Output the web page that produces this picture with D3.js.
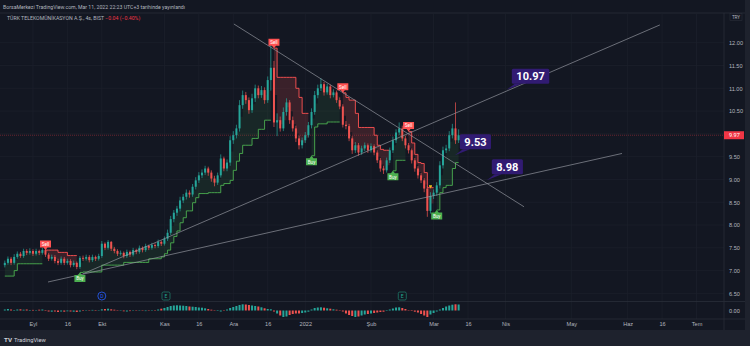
<!DOCTYPE html>
<html>
<head>
<meta charset="utf-8">
<title>TTKOM 4s</title>
<script src="https://cdnjs.cloudflare.com/ajax/libs/d3/7.8.5/d3.min.js"></script>
<style>
    body { margin: 0; background: #1e222d; }
    svg { display: block; font-family: Roboto, "Liberation Sans", sans-serif; }
    .axis text { fill: #b2b5be; font-size: 5.6px; }
    .axis path, .axis line { display: none; }
</style>
</head>
<body>
<svg id="chart"></svg>
<script>
    const width = 750;
    const height = 346;

    // candles, one per trading day, bar 0 = Aug 19 2021, last bar = Mar 11 2022
    const opens = [7.12,7.17,7.26,7.17,7.30,7.37,7.32,7.43,7.39,7.43,7.37,7.43,7.39,7.45,7.35,7.26,7.30,7.21,7.17,7.26,
        7.17,7.21,7.12,7.17,7.08,7.28,7.26,7.30,7.23,7.30,7.26,7.32,7.59,7.50,7.63,7.48,7.43,7.37,7.39,7.32,
        7.41,7.35,7.45,7.41,7.50,7.45,7.54,7.50,7.56,7.54,7.63,7.59,7.70,7.83,8.13,8.27,8.36,8.54,8.62,8.71,
        8.67,8.84,8.98,9.09,9.15,9.24,9.15,9.02,8.93,9.09,9.46,9.24,9.37,9.86,9.97,10.12,10.63,10.85,10.74,10.52,
        10.78,11.00,10.85,10.96,10.74,11.18,11.45,10.25,10.30,10.12,10.48,10.69,10.30,10.12,9.90,9.75,9.86,9.97,10.19,10.48,
        10.85,11.00,11.09,10.91,11.04,10.85,10.91,10.74,10.60,10.20,10.17,9.90,9.64,9.75,9.59,9.68,9.75,9.64,9.73,9.59,
        9.42,9.24,9.20,9.42,9.64,9.86,10.03,10.12,9.90,9.75,9.64,9.42,9.24,9.09,8.98,8.80,8.31,8.64,8.71,8.87,
        9.31,9.64,9.68,9.97,10.12,9.86];
    const highs = [7.22,7.31,7.30,7.36,7.42,7.41,7.48,7.47,7.49,7.47,7.48,7.46,7.50,7.49,7.39,7.35,7.34,7.26,7.31,7.30,
        7.26,7.25,7.22,7.20,7.32,7.33,7.35,7.34,7.35,7.33,7.37,7.65,7.62,7.67,7.65,7.52,7.47,7.44,7.42,7.46,
        7.44,7.50,7.48,7.55,7.53,7.59,7.57,7.61,7.60,7.68,7.66,7.75,7.90,8.20,8.33,8.42,8.62,8.68,8.78,8.76,
        8.90,9.05,9.16,9.22,9.30,9.28,9.20,9.08,9.15,9.55,9.50,9.44,9.95,10.06,10.20,10.74,10.95,10.92,10.80,10.88,
        11.08,11.06,11.05,11.02,11.26,11.99,11.60,10.45,10.38,10.58,10.78,10.74,10.38,10.18,9.96,9.92,10.04,10.26,10.56,10.94,
        11.08,11.22,11.14,11.10,11.08,10.98,10.95,10.80,10.65,10.28,10.22,9.95,9.82,9.80,9.74,9.81,9.79,9.79,9.77,9.64,
        9.47,9.30,9.48,9.70,9.94,10.10,10.25,10.18,9.96,9.80,9.68,9.47,9.29,9.14,9.03,8.86,8.72,8.78,8.94,9.40,
        9.72,9.76,10.06,10.22,10.69,10.10];
    const lows = [7.07,7.13,7.12,7.13,7.26,7.28,7.28,7.34,7.35,7.32,7.33,7.34,7.35,7.30,7.21,7.22,7.16,7.12,7.13,7.12,
        7.13,7.07,7.08,7.03,7.04,7.21,7.22,7.18,7.19,7.21,7.22,7.28,7.45,7.46,7.43,7.38,7.32,7.33,7.27,7.28,
        7.30,7.31,7.36,7.37,7.40,7.41,7.45,7.46,7.49,7.50,7.54,7.55,7.65,7.78,8.06,8.20,8.30,8.48,8.56,8.60,
        8.62,8.78,8.92,9.03,9.10,9.08,8.95,8.85,8.88,9.04,9.18,9.18,9.30,9.78,9.90,10.05,10.55,10.66,10.44,10.46,
        10.70,10.78,10.79,10.66,10.68,10.95,10.15,9.95,10.05,10.06,10.40,10.22,10.05,9.82,9.66,9.68,9.80,9.92,10.12,10.42,
        10.78,10.94,10.84,10.86,10.78,10.80,10.68,10.54,10.14,10.10,9.84,9.56,9.58,9.52,9.54,9.62,9.58,9.59,9.53,9.36,
        9.17,9.12,9.15,9.36,9.58,9.80,9.97,9.84,9.68,9.57,9.35,9.17,9.02,8.92,8.72,8.18,8.25,8.57,8.64,8.80,
        9.24,9.58,9.62,9.90,9.78,9.80];
    const closes = [7.17,7.26,7.17,7.30,7.37,7.32,7.43,7.39,7.43,7.37,7.43,7.39,7.45,7.35,7.26,7.30,7.21,7.17,7.26,7.17,
        7.21,7.12,7.17,7.08,7.28,7.26,7.30,7.23,7.30,7.26,7.32,7.59,7.50,7.63,7.48,7.43,7.37,7.39,7.32,7.41,
        7.35,7.45,7.41,7.50,7.45,7.54,7.50,7.56,7.54,7.63,7.59,7.70,7.83,8.13,8.27,8.36,8.54,8.62,8.71,8.67,
        8.84,8.98,9.09,9.15,9.24,9.15,9.02,8.93,9.09,9.46,9.24,9.37,9.86,9.97,10.12,10.63,10.85,10.74,10.52,10.78,
        11.00,10.85,10.96,10.74,11.18,11.45,10.25,10.30,10.12,10.48,10.69,10.30,10.12,9.90,9.75,9.86,9.97,10.19,10.48,10.85,
        11.00,11.09,10.91,11.04,10.85,10.91,10.74,10.60,10.20,10.17,9.90,9.64,9.75,9.59,9.68,9.75,9.64,9.73,9.59,9.42,
        9.24,9.20,9.42,9.64,9.86,10.03,10.12,9.90,9.75,9.64,9.42,9.24,9.09,8.98,8.80,8.31,8.64,8.71,8.87,9.31,
        9.64,9.68,9.97,10.12,9.86,9.97];

    // supertrend value per bar and the trend segments [firstBar, lastBar, direction]
    const superTrend = [6.88,6.88,6.88,7.00,7.15,7.15,7.15,7.15,7.15,7.15,7.15,7.15,7.15,7.45,7.45,7.45,7.45,7.40,7.40,7.40,
        7.33,7.33,7.33,7.33,6.96,6.97,6.97,6.97,6.97,6.97,6.97,7.12,7.12,7.12,7.12,7.12,7.12,7.12,7.18,7.18,
        7.18,7.18,7.18,7.18,7.18,7.18,7.26,7.26,7.26,7.26,7.30,7.37,7.45,7.61,7.75,7.87,8.05,8.16,8.31,8.31,
        8.49,8.60,8.69,8.69,8.69,8.71,8.71,8.71,8.71,8.87,8.91,8.91,8.98,9.20,9.40,9.57,9.75,9.75,9.75,9.90,
        9.90,10.10,10.10,10.30,10.30,10.30,11.88,11.24,11.24,11.24,11.24,11.24,11.24,11.00,10.80,10.45,10.45,10.45,9.52,10.15,
        10.22,10.22,10.22,10.26,10.26,10.26,10.26,10.26,10.90,10.80,10.74,10.74,10.45,10.14,10.14,10.14,10.14,10.14,9.97,9.75,
        9.66,9.64,9.64,9.64,9.19,9.42,9.42,9.42,9.42,10.05,9.80,9.55,9.37,9.35,9.15,8.82,8.82,8.82,8.33,8.71,
        8.82,8.87,8.87,9.24,9.37,9.37];
    const trendSegments = [[0,12,1],[13,23,-1],[24,85,1],[86,97,-1],[98,107,1],[108,123,-1],[124,128,1],[129,137,-1],[138,145,1]];

    // oscillator histogram in the lower pane
    const oscHist = [0.010,0.015,0.010,-0.005,0.010,0.012,0.008,0.010,0.005,0.006,0.004,0.008,0.010,-0.005,-0.010,-0.012,-0.010,-0.015,-0.010,-0.012,
        -0.008,-0.010,-0.012,-0.015,-0.010,-0.005,0.000,0.004,0.006,0.005,0.004,0.012,0.015,0.018,0.012,0.008,0.003,-0.004,-0.008,-0.010,
        -0.006,-0.004,-0.002,0.002,-0.003,-0.006,-0.004,-0.002,0.004,0.010,0.018,0.025,0.035,0.045,0.050,0.052,0.050,0.048,0.045,0.040,
        0.038,0.035,0.030,0.028,0.022,0.015,0.008,0.003,-0.005,-0.010,-0.004,0.010,0.025,0.035,0.045,0.055,0.062,0.060,0.055,0.050,
        0.045,0.040,0.032,0.022,0.015,0.012,-0.010,-0.030,-0.050,-0.065,-0.060,-0.045,-0.035,-0.030,-0.030,-0.025,-0.020,-0.012,0.010,0.025,
        0.030,0.032,0.028,0.022,0.018,0.012,0.008,0.004,-0.010,-0.030,-0.045,-0.055,-0.065,-0.060,-0.050,-0.040,-0.035,-0.030,-0.025,-0.020,
        -0.015,-0.012,-0.005,0.010,0.020,0.030,0.032,0.025,0.015,0.002,-0.005,-0.012,-0.020,-0.035,-0.050,-0.065,-0.040,-0.025,-0.010,0.010,
        0.025,0.040,0.050,0.058,0.062,0.060];

    const priceTicks = [6.5,7,7.5,8,8.5,9,9.5,10,10.5,11,11.5,12];
    const timeTicks = [9,20,31,51,62,73,84,96,117,137,148,160,181,199,210,221];
    const timeLabels = ["Eyl","16","Ekt","Kas","16","Ara","16","2022","Şub","Mar","16","Nis","May","Haz","16","Tem"];

    // drawings: trend lines [bar1, price1, bar2, price2]
    const trendLines = [[73.2,12.41,165.9,8.40],[25,6.93,209.3,12.39],[13.8,6.75,197.2,9.57]];
    // callouts: anchor bar, anchor price, label
    const callouts = [[160.4,10.97,"10.97"],[143.8,9.53,"9.53"],[154.0,8.98,"8.98"]];
    // events under the chart: bar, letter
    const events = [[31,"D"],[51.5,"E"],[127,"E"]];

    const lastPrice = 9.97;

    const svg = d3.select("#chart").attr("width", width).attr("height", height);

    const paneLeft = 0, paneRight = 724, paneTop = 13, mainBottom = 301.5, oscBottom = 319;

    const x = d3.scaleLinear().domain([0, 221]).range([4.8, 696.5]);
    const y = d3.scaleLinear().domain([6.5, 12]).range([293.4, 42.7]);
    const yOsc = d3.scaleLinear().domain([-0.1, 0.1]).range([320.5, 300.5]);

    // panel background
    svg.append("rect").attr("x", 0).attr("y", 0).attr("width", 745).attr("height", 330).attr("fill", "#131722");
    svg.append("line").attr("x1", 0).attr("x2", 745).attr("y1", paneTop).attr("y2", paneTop).attr("stroke", "#2a2e39").attr("stroke-width", 0.8);

    // grid
    const grid = svg.append("g").attr("stroke", "#1c202b").attr("stroke-width", 0.8);
    grid.selectAll(".h").data(priceTicks).join("line")
        .attr("x1", paneLeft).attr("x2", paneRight)
        .attr("y1", d => y(d)).attr("y2", d => y(d));
    grid.selectAll(".v").data(timeTicks).join("line")
        .attr("x1", d => x(d)).attr("x2", d => x(d))
        .attr("y1", paneTop).attr("y2", oscBottom);

    // pane separators
    svg.append("line").attr("x1", 0).attr("x2", 745).attr("y1", mainBottom).attr("y2", mainBottom).attr("stroke", "#2a2e39").attr("stroke-width", 0.8);
    svg.append("line").attr("x1", 0).attr("x2", 745).attr("y1", oscBottom).attr("y2", oscBottom).attr("stroke", "#2a2e39").attr("stroke-width", 0.8);
    svg.append("line").attr("x1", paneRight).attr("x2", paneRight).attr("y1", paneTop).attr("y2", 330).attr("stroke", "#2a2e39").attr("stroke-width", 0.8);

    svg.append("clipPath").attr("id", "mainClip").append("rect")
        .attr("x", paneLeft).attr("y", paneTop).attr("width", paneRight - paneLeft).attr("height", mainBottom - paneTop);

    const main = svg.append("g").attr("clip-path", "url(#mainClip)");

    // last price line
    main.append("line")
        .attr("x1", paneLeft).attr("x2", paneRight)
        .attr("y1", y(lastPrice)).attr("y2", y(lastPrice))
        .attr("stroke", "#f23645").attr("stroke-opacity", 0.55)
        .attr("stroke-width", 0.7).attr("stroke-dasharray", "1,1");

    const bars = d3.range(closes.length).map(i => ({
        i, o: opens[i], h: highs[i], l: lows[i], c: closes[i], st: superTrend[i]
    }));

    // supertrend fill + line
    trendSegments.forEach(([a, b, dir]) => {
        const seg = bars.slice(a, b + 1);
        const up = dir > 0;
        const area = d3.area()
            .x(d => x(d.i))
            .y0(d => y(d.st))
            .y1(d => y((d.o + d.c) / 2))
            .curve(d3.curveStepAfter);
        main.append("path").datum(seg)
            .attr("d", area)
            .attr("fill", up ? "rgba(76,175,80,0.11)" : "rgba(255,82,82,0.17)");
        const line = d3.line().x(d => x(d.i)).y(d => y(d.st)).curve(d3.curveStepAfter);
        main.append("path").datum(seg)
            .attr("d", line)
            .attr("fill", "none")
            .attr("stroke", up ? "#4caf50" : "#ff5252")
            .attr("stroke-width", 0.9);
    });

    // candles
    const candle = main.append("g").selectAll("g").data(bars).join("g");
    candle.append("line")
        .attr("x1", d => x(d.i)).attr("x2", d => x(d.i))
        .attr("y1", d => y(d.h)).attr("y2", d => y(d.l))
        .attr("stroke", d => d.c >= d.o ? "#26a69a" : "#ef5350")
        .attr("stroke-width", 0.7);
    candle.append("rect")
        .attr("x", d => x(d.i) - 1)
        .attr("width", 2)
        .attr("y", d => y(Math.max(d.o, d.c)))
        .attr("height", d => Math.max(0.8, Math.abs(y(d.o) - y(d.c))))
        .attr("fill", d => d.c >= d.o ? "#26a69a" : "#ef5350");

    // trend lines
    main.append("g").selectAll("line").data(trendLines).join("line")
        .attr("x1", d => x(d[0])).attr("y1", d => y(d[1]))
        .attr("x2", d => x(d[2])).attr("y2", d => y(d[3]))
        .attr("stroke", "#9598a1").attr("stroke-opacity", 0.85).attr("stroke-width", 0.8);

    // buy / sell labels at trend flips
    const signals = trendSegments.slice(1).map(([a, , dir]) => ({ i: a, st: superTrend[a], buy: dir > 0 }));
    const sig = main.append("g").selectAll("g").data(signals).join("g")
        .attr("transform", d => `translate(${x(d.i)},${y(d.st)})`);
    sig.append("path")
        .attr("d", d => d.buy
            ? "M0,0 L-2,2.5 L-5.5,2.5 L-5.5,9.5 L5.5,9.5 L5.5,2.5 L2,2.5 Z"
            : "M0,0 L-2,-2.5 L-5.5,-2.5 L-5.5,-9.5 L5.5,-9.5 L5.5,-2.5 L2,-2.5 Z")
        .attr("fill", d => d.buy ? "#4caf50" : "#ff5252");
    sig.append("text")
        .attr("text-anchor", "middle")
        .attr("y", d => d.buy ? 7.9 : -4.1)
        .attr("fill", "#fff")
        .attr("font-size", "4.6px")
        .text(d => d.buy ? "Buy" : "Sell");

    // small yellow marker on the March dip
    main.append("path")
        .attr("transform", `translate(${x(136)},${y(8.84)})`)
        .attr("d", "M-1.5,-1.5 L1.5,-1.5 L1.5,0 L0.4,0 L0.4,1.5 L-0.4,1.5 L-0.4,0 L-1.5,0 Z")
        .attr("fill", "#f5c518");

    // callouts
    const co = main.append("g").selectAll("g").data(callouts).join("g")
        .attr("transform", d => `translate(${x(d[0])},${y(d[1])})`);
    co.each(function (d) {
        const g = d3.select(this);
        const t = g.append("text")
            .attr("fill", "#fff").attr("font-size", "11px").attr("font-weight", "bold")
            .text(d[2]);
        const w = t.node().getComputedTextLength() + 9;
        const bx = 5, by = -21, bh = 15;
        g.insert("path", "text")
            .attr("d", `M0,0 L${bx + 3},${by + bh} L${bx + 10},${by + bh} Z`)
            .attr("fill", "#311b72");
        g.insert("rect", "text")
            .attr("x", bx).attr("y", by).attr("width", w).attr("height", bh)
            .attr("rx", 1.5).attr("fill", "#311b72");
        t.attr("x", bx + 4.5).attr("y", by + 11.5);
    });

    // oscillator histogram
    svg.append("g").selectAll("rect").data(bars).join("rect")
        .attr("x", d => x(d.i) - 1)
        .attr("width", 2)
        .attr("y", d => Math.min(yOsc(oscHist[d.i]), yOsc(0)))
        .attr("height", d => Math.max(0.4, Math.abs(yOsc(oscHist[d.i]) - yOsc(0))))
        .attr("fill", d => d.c >= d.o ? "#26a69a" : "#ef5350");

    // event markers
    const ev = svg.append("g").selectAll("g").data(events).join("g")
        .attr("transform", d => `translate(${x(d[0])},296)`);
    ev.append("rect")
        .attr("x", -4).attr("y", -4).attr("width", 8).attr("height", 8)
        .attr("rx", d => d[1] === "D" ? 4 : 1.5)
        .attr("fill", "#131722")
        .attr("stroke", d => d[1] === "D" ? "#2962ff" : "#1f7a68")
        .attr("stroke-width", 0.8);
    ev.append("text")
        .attr("text-anchor", "middle").attr("y", 1.8)
        .attr("font-size", "5px")
        .attr("fill", d => d[1] === "D" ? "#2962ff" : "#22ab94")
        .text(d => d[1]);

    // price axis (the tick hidden under the last price tag is skipped, as on the chart)
    svg.append("g").attr("class", "axis")
        .attr("transform", `translate(${paneRight},0)`)
        .call(d3.axisRight(y)
            .tickValues(priceTicks.filter(p => Math.abs(y(p) - y(lastPrice)) > 6))
            .tickFormat(d3.format(".2f")).tickSize(0).tickPadding(5));
    svg.append("text").attr("x", 729).attr("y", yOsc(0) + 2).attr("fill", "#b2b5be").attr("font-size", "5.6px").text("0.00");

    // last price tag
    svg.append("rect").attr("x", paneRight).attr("y", y(lastPrice) - 4).attr("width", 20).attr("height", 8).attr("fill", "#f23645");
    svg.append("text").attr("x", 729).attr("y", y(lastPrice) + 2).attr("fill", "#fff").attr("font-size", "5.6px").text(d3.format(".2f")(lastPrice));

    // currency
    svg.append("rect").attr("x", 730).attr("y", 13.5).attr("width", 12).attr("height", 7).attr("fill", "none").attr("stroke", "#2a2e39").attr("stroke-width", 0.6);
    svg.append("text").attr("x", 736).attr("y", 19).attr("text-anchor", "middle").attr("fill", "#b2b5be").attr("font-size", "4.6px").text("TRY");

    // time axis
    svg.append("g").attr("class", "axis")
        .attr("transform", `translate(0,${oscBottom})`)
        .call(d3.axisBottom(x).tickValues(timeTicks).tickFormat((d, i) => timeLabels[i]).tickSize(0).tickPadding(3));

    // header
    svg.append("text").attr("x", 3).attr("y", 8.6).attr("fill", "#b2b5be").attr("font-size", "5.2px")
        .text("BorsaMerkezi TradingView.com, Mar 11, 2022 22:23 UTC+3 tarihinde yayınlandı");
    const title = svg.append("text").attr("x", 7).attr("y", 19.6).attr("font-size", "5.2px");
    title.append("tspan").attr("fill", "#b2b5be").text("TÜRK TELEKOMÜNİKASYON A.Ş., 4s, BIST ");
    title.append("tspan").attr("fill", "#f23645").text(" −0.04 (−0.40%)");

    // footer logo
    svg.append("text").attr("x", 4).attr("y", 341.8).attr("fill", "#d1d4dc").attr("font-size", "6.2px").attr("font-weight", "bold").text("TV");
    svg.append("text").attr("x", 14).attr("y", 341.8).attr("fill", "#d1d4dc").attr("font-size", "5.8px").text("TradingView");
</script>
</body>
</html>
